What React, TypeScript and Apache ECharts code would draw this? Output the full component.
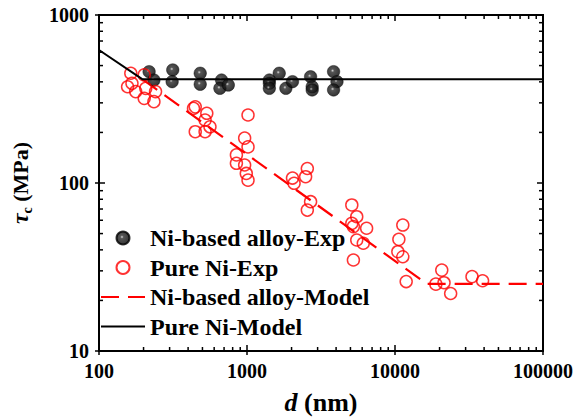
import React, { useEffect, useRef } from 'react';
import * as echarts from 'echarts';

// Ni-based alloy-Exp (black spheres)
const alloyExpD = [218, 235, 315, 312, 483, 483, 673, 656, 748, 1416, 1416, 1416, 1651, 1831, 2029, 2689, 2757, 2757, 3845, 4055, 3845];
const alloyExpTau = [460, 410, 471, 401, 450, 387, 410, 366, 383, 410, 392, 366, 450, 366, 401, 429, 374, 358, 460, 401, 358];

// Pure Ni-Exp (red open circles)
const pureExpD = [164, 156, 167, 177, 202, 207, 202, 235, 241, 447, 435, 535, 521, 562, 447, 521, 1016, 964, 1016, 848, 848, 964, 989, 1016, 2556, 2489, 2029, 2080, 2689, 2556, 5107, 5514, 5107, 5234, 6430, 5514, 6105, 5234, 11290, 10620, 10450, 11290, 11900, 20700, 18880, 21440, 23770, 33140, 39060];
const pureExpTau = [450, 374, 392, 350, 440, 366, 319, 305, 350, 284, 278, 260, 237, 216, 202, 202, 254, 185, 164, 147, 131, 128, 114, 104, 122, 109, 107, 99.6, 77.4, 69, 74, 63, 57.5, 55, 53.8, 45.8, 43.8, 34.8, 56.2, 46.2, 39, 36.4, 25.9, 30.3, 25, 25.5, 22, 27.7, 26.2];

// Models
const alloyModelD = [197, 16400, 100000];
const alloyModelTau = [414, 25.1, 25.1];
const pureModelD = [100, 197, 100000];
const pureModelTau = [619, 414, 414];

// Tick values
const xMajor = [100, 1000, 10000, 100000];
const xMinor = [200, 300, 400, 500, 600, 700, 800, 900, 2000, 3000, 4000, 5000, 6000, 7000, 8000, 9000, 20000, 30000, 40000, 50000, 60000, 70000, 80000, 90000];
const yMajor = [10, 100, 1000];
const yMinor = [20, 30, 40, 50, 60, 70, 80, 90, 200, 300, 400, 500, 600, 700, 800, 900];

const names = ['Ni-based alloy-Exp', 'Pure Ni-Exp', 'Ni-based alloy-Model', 'Pure Ni-Model'];

const FONT = 'Times New Roman, Liberation Serif, serif';

const zip = (a: number[], b: number[]) => a.map((v, i) => [v, b[i]]);

export default function App() {
  const ref = useRef<HTMLDivElement>(null);
  useEffect(() => {
    document.body.style.margin = '0';
    const chart = echarts.init(ref.current!, null, { renderer: 'svg' });
    const sphere = new echarts.graphic.RadialGradient(0.42, 0.42, 0.6, [
      { offset: 0, color: '#cfcfcf' },
      { offset: 0.22, color: '#2a2a2a' },
      { offset: 1, color: '#000' },
    ]);
    const tickStyle = { stroke: '#000', lineWidth: 1.5 };
    const xTickData = xMajor.map((v) => [v, 10, 1]).concat(xMinor.map((v) => [v, 10, 0]));
    const yTickData = yMajor.map((v) => [100, v, 1]).concat(yMinor.map((v) => [100, v, 0]));
    chart.setOption({
      animation: false,
      backgroundColor: '#fff',
      textStyle: { fontFamily: FONT },
      grid: { left: 96, right: 31, top: 15, bottom: 69, show: true, borderColor: '#000', borderWidth: 2, backgroundColor: 'transparent' },
      xAxis: {
        type: 'log',
        logBase: 10,
        min: 100,
        max: 100000,
        name: '{i|d} (nm)',
        nameLocation: 'middle',
        nameGap: 38,
        nameTextStyle: {
          fontFamily: FONT, fontWeight: 'bold', fontSize: 26, color: '#000',
          rich: { i: { fontFamily: FONT, fontWeight: 'bold', fontStyle: 'italic', fontSize: 26, color: '#000' } },
        },
        axisLine: { lineStyle: { color: '#000', width: 2 } },
        axisTick: { show: false },
        minorTick: { show: false },
        splitLine: { show: false },
        axisLabel: {
          margin: 10, fontFamily: FONT, fontWeight: 'bold', fontSize: 20, color: '#000',
          formatter: (v: number) => String(Math.round(v)),
        },
      },
      yAxis: {
        type: 'log',
        logBase: 10,
        min: 10,
        max: 1000,
        name: '{t|τ}{s|c}{n| (MPa)}',
        nameLocation: 'middle',
        nameGap: 65,
        nameTextStyle: {
          fontFamily: FONT, fontWeight: 'bold', fontSize: 22, color: '#000',
          rich: {
            t: { fontFamily: FONT, fontWeight: 'bold', fontStyle: 'italic', fontSize: 24, color: '#000', lineHeight: 28 },
            s: { fontFamily: FONT, fontWeight: 'bold', fontSize: 14, color: '#000', verticalAlign: 'bottom', lineHeight: 14 },
            n: { fontFamily: FONT, fontWeight: 'bold', fontSize: 22, color: '#000', lineHeight: 28 },
          },
        },
        axisLine: { lineStyle: { color: '#000', width: 2 } },
        axisTick: { show: false },
        minorTick: { show: false },
        splitLine: { show: false },
        axisLabel: {
          margin: 10, fontFamily: FONT, fontWeight: 'bold', fontSize: 20, color: '#000',
          formatter: (v: number) => String(Math.round(v)),
        },
      },
      legend: {
        orient: 'vertical',
        left: 100,
        top: 226,
        padding: 0,
        itemWidth: 44,
        itemHeight: 13,
        itemGap: 5.5,
        textStyle: { fontFamily: FONT, fontWeight: 'bold', fontSize: 24, color: '#000', lineHeight: 24 },
        data: names,
      },
      series: [
        {
          type: 'custom',
          silent: true,
          clip: false,
          encode: { x: 0, y: 1 },
          data: xTickData,
          renderItem: (params: any, api: any) => {
            const v = api.value(0);
            const major = api.value(2) === 1;
            const b = api.coord([v, 10]);
            const t = api.coord([v, 1000]);
            const len = major ? 6 : 4;
            return {
              type: 'group',
              children: [
                { type: 'line', shape: { x1: b[0], y1: b[1] + (major ? 4 : 0), x2: b[0], y2: b[1] - len }, style: tickStyle },
                { type: 'line', shape: { x1: t[0], y1: t[1], x2: t[0], y2: t[1] + len }, style: tickStyle },
              ],
            };
          },
          z: 5,
        },
        {
          type: 'custom',
          silent: true,
          clip: false,
          encode: { x: 0, y: 1 },
          data: yTickData,
          renderItem: (params: any, api: any) => {
            const v = api.value(1);
            const major = api.value(2) === 1;
            const l = api.coord([100, v]);
            const r = api.coord([100000, v]);
            const len = major ? 6 : 4;
            return {
              type: 'group',
              children: [
                { type: 'line', shape: { x1: l[0] - (major ? 4 : 0), y1: l[1], x2: l[0] + len, y2: l[1] }, style: tickStyle },
                { type: 'line', shape: { x1: r[0], y1: r[1], x2: r[0] - len, y2: r[1] }, style: tickStyle },
              ],
            };
          },
          z: 5,
        },
        {
          name: names[0],
          type: 'scatter',
          symbol: 'circle',
          symbolSize: 12.5,
          itemStyle: { color: sphere, borderColor: '#000', borderWidth: 0.5 },
          data: zip(alloyExpD, alloyExpTau),
          z: 3,
        },
        {
          name: names[1],
          type: 'scatter',
          symbol: 'circle',
          symbolSize: 12,
          itemStyle: { color: 'rgba(0,0,0,0)', borderColor: '#ff0000', borderWidth: 1.5 },
          data: zip(pureExpD, pureExpTau),
          z: 3,
        },
        {
          name: names[2],
          type: 'line',
          symbol: 'none',
          lineStyle: { color: '#ff0000', width: 2.2, type: [18, 9] },
          itemStyle: { color: 'rgba(0,0,0,0)', opacity: 0 },
          data: zip(alloyModelD, alloyModelTau),
          z: 2,
        },
        {
          name: names[3],
          type: 'line',
          symbol: 'none',
          lineStyle: { color: '#000', width: 2 },
          itemStyle: { color: 'rgba(0,0,0,0)', opacity: 0 },
          data: zip(pureModelD, pureModelTau),
          z: 4,
        },
      ],
    });
    return () => chart.dispose();
  }, []);
  return <div ref={ref} style={{ width: 576, height: 420 }} />;
}
